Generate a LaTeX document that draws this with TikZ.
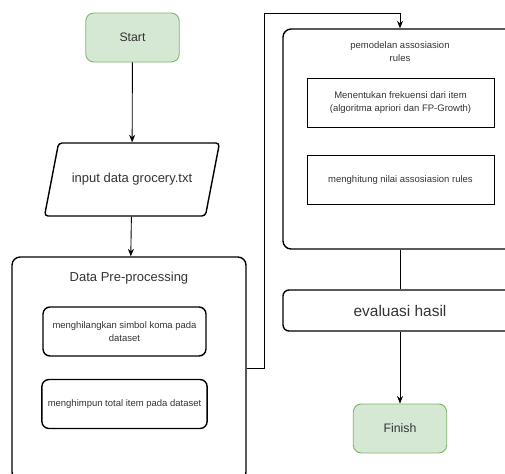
\documentclass[tikz,border=0pt]{standalone}
\usepackage{fontspec}
\setmainfont{Liberation Sans}
\usetikzlibrary{arrows.meta,shapes.geometric}

\definecolor{okfill}{HTML}{D5E8D4}
\definecolor{okline}{HTML}{82B366}
\definecolor{txt}{HTML}{333333}

\begin{document}
\begin{tikzpicture}[x=0.02cm,y=-0.02cm,
  terminal/.style={draw=okline,fill=okfill,rounded corners=0.16cm,line width=0.5pt,
    minimum width=1.87cm,minimum height=0.98cm,text=txt,font=\fontsize{7pt}{8.5pt}\selectfont},
  wadah/.style={draw,rounded corners=0.16cm,line width=0.8pt,minimum width=4.68cm},
  langkah/.style={draw,rounded corners=0.14cm,line width=0.8pt,minimum width=3.26cm,
    minimum height=0.98cm,align=center,text=txt,font=\fontsize{5.4pt}{7pt}\selectfont},
  kotak/.style={draw,line width=0.5pt,minimum width=3.74cm,minimum height=0.98cm,
    align=center,text=txt,font=\fontsize{5.4pt}{7pt}\selectfont},
  judul/.style={align=center,text=txt,inner sep=0pt},
  panah/.style={-{Stealth[length=0.15cm,width=0.12cm]},line width=0.5pt}]

\useasboundingbox (0,0) rectangle (505,474);
\clip (0,0) rectangle (505,474);

% kolom kiri
\node[terminal] (start) at (132.5,37.5) {Start};
\node[draw,trapezium,trapezium left angle=62,trapezium right angle=118,trapezium stretches=true,
  rounded corners=2pt,line width=0.8pt,minimum width=3.52cm,minimum height=1.46cm,
  text=txt,font=\fontsize{7.4pt}{9pt}\selectfont] (input) at (132,179.5) {input data grocery.txt};

\node[wadah,minimum height=4.46cm] (prep) at (129,368.5) {};
\node[judul,font=\fontsize{7.4pt}{9pt}\selectfont] (prepjudul) at (129,278) {Data Pre-processing};
\node[langkah] (hapus) at (124.5,331.5) {menghilangkan simbol koma pada\\dataset};
\node[langkah] (himpun) at (124.5,404) {menghimpun total item pada dataset};

% kolom kanan
\node[wadah,minimum height=4.4cm] (model) at (400,139) {};
\node[judul,font=\fontsize{5.4pt}{7.4pt}\selectfont] (modeljudul) at (400,51.5) {pemodelan assosiasion\\rules};
\node[kotak] (frek) at (400.5,102.5) {Menentukan frekuensi dari item\\(algoritma apriori dan FP-Growth)};
\node[kotak] (hitung) at (400.5,180) {menghitung nilai assosiasion rules};

\node[wadah,rounded corners=0.12cm,minimum height=0.82cm,text=txt,
  font=\fontsize{8.8pt}{10pt}\selectfont] (eval) at (400,310.5) {evaluasi hasil};
\node[terminal] (finish) at (400,428.5) {Finish};

\coordinate (belok) at (264,13);

\draw[panah] (start) -- (input);
\draw[panah] (input) -- (prep);
\draw[panah] (prep.east) -| (belok) -| (model.north);
\draw[line width=0.5pt] (model) -- (eval);
\draw[panah] (eval) -- (finish);

\end{tikzpicture}
\end{document}
